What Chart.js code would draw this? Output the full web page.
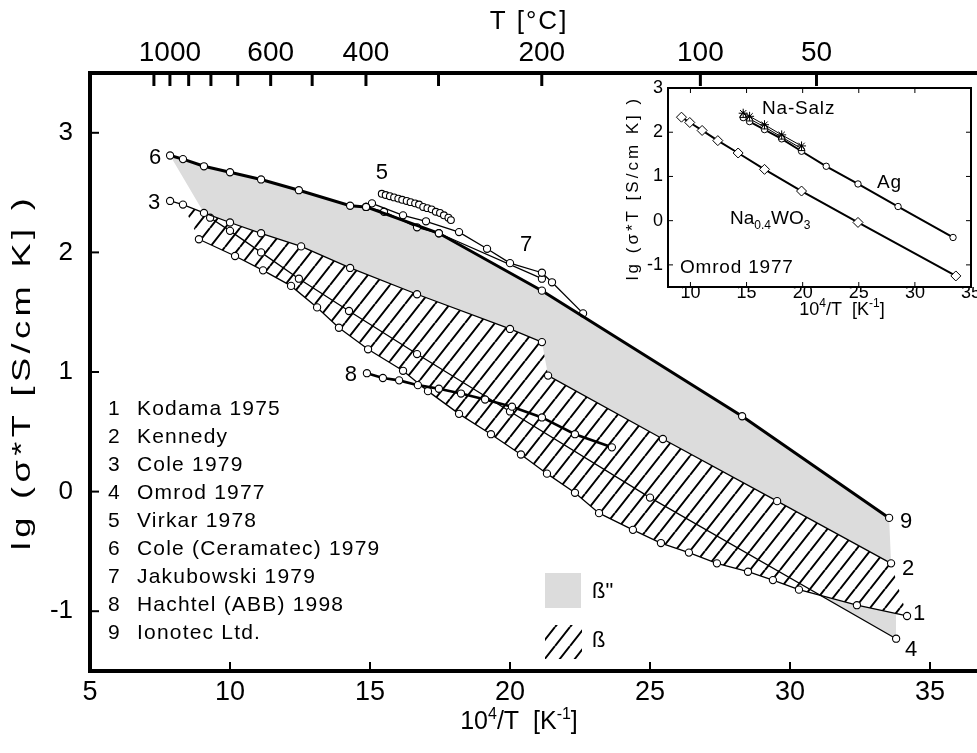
<!DOCTYPE html>
<html>
<head>
<meta charset="utf-8">
<title>Leitfähigkeit Beta-Aluminat</title>
<script src="https://cdn.jsdelivr.net/npm/chart.js@4.4.1/dist/chart.umd.min.js"></script>
<style>
  html, body { margin: 0; padding: 0; background: #fff; overflow: hidden; }
  #wrap { position: relative; width: 977px; height: 753px; overflow: hidden; background: #fff; }
  #main { position: absolute; left: 0; top: 0; }
  #inset { position: absolute; left: 620px; top: 70px; }
</style>
</head>
<body>
<div id="wrap">
  <canvas id="main" width="1000" height="753"></canvas>
  <canvas id="inset" width="357" height="255"></canvas>
</div>
<script>
// Messreihen: [10^4/T, lg(sigma*T)]
const kodama1975 = [[8.89,2.11],[10.18,1.97],[11.18,1.85],[12.18,1.72],[13.11,1.54],[13.89,1.37],[14.93,1.19],[16.18,1.01],[17.07,0.84],[18.18,0.65],[19.32,0.48],[20.39,0.31],[21.32,0.15],[22.32,-0.01],[23.18,-0.18],[24.39,-0.32],[25.39,-0.43],[26.39,-0.51],[27.39,-0.60],[28.5,-0.67],[29.39,-0.74],[30.32,-0.82],[32.39,-0.95],[34.18,-1.04]];
const kennedy = [[21.36,0.97],[25.46,0.44],[29.54,-0.08],[33.61,-0.60]];
const cole1979 = [[7.86,2.43],[8.32,2.40],[9.07,2.33],[10.0,2.25],[11.11,2.16],[12.54,2.05],[14.29,1.87],[16.68,1.65],[20.0,1.36],[21.14,1.25]];
const omrod1977 = [[9.29,2.29],[10.0,2.18],[11.11,2.00],[12.46,1.78],[14.25,1.51],[16.68,1.15],[20.0,0.67],[25.0,-0.05],[33.79,-1.23]];
const virkar1978 = [[15.42,2.49],[15.56,2.48],[15.71,2.47],[15.86,2.46],[16.01,2.45],[16.15,2.44],[16.31,2.43],[16.45,2.42],[16.61,2.41],[16.75,2.40],[16.90,2.38],[17.05,2.37],[17.20,2.36],[17.35,2.34],[17.50,2.33],[17.64,2.31],[17.80,2.29],[17.89,2.27]];
const coleCeramatec1979 = [[7.86,2.81],[8.32,2.78],[9.07,2.72],[10.0,2.67],[11.11,2.61],[12.46,2.52],[14.29,2.39],[14.86,2.38]];
const jakubowskiA = [[15.07,2.41],[16.18,2.31],[17.0,2.26],[18.18,2.17],[19.18,2.03],[20.0,1.91],[21.14,1.83],[21.5,1.75],[22.61,1.49]];
const jakubowskiB = [[14.86,2.38],[15.5,2.34],[16.68,2.21],[17.46,2.16],[21.14,1.78]];
const hachtel1998 = [[14.89,0.99],[15.46,0.95],[16.04,0.93],[16.71,0.89],[17.46,0.86],[18.25,0.82],[19.11,0.77],[20.07,0.71],[21.14,0.62],[22.32,0.48],[23.64,0.37]];
const ionotec = [[14.86,2.38],[17.46,2.16],[21.14,1.68],[28.29,0.63],[33.54,-0.22]];

// Einschub (Omrod 1977)
const insetNaWO3 = [[9.2,2.34],[9.94,2.22],[11.04,2.04],[12.44,1.81],[14.25,1.53],[16.6,1.16],[19.9,0.67],[24.93,-0.04],[33.65,-1.25]];
const insetAg = [[14.7,2.33],[15.27,2.24],[16.6,2.06],[18.13,1.85],[19.9,1.57],[22.1,1.23],[24.93,0.83],[28.5,0.32],[33.4,-0.38]];
const insetNaSalzStar = [[14.7,2.43],[15.27,2.36],[16.6,2.17],[18.13,1.94],[19.9,1.69]];
const insetNaSalzTri = [[14.7,2.38],[15.27,2.30],[16.6,2.12],[18.13,1.89],[19.9,1.63]];

// Achsen
const X_TICKS = [5, 10, 15, 20, 25, 30, 35];
const Y_TICKS = [-1, 0, 1, 2, 3];
const TOP_T = [1100, 1000, 900, 800, 700, 600, 500, 400, 300, 200, 100, 50];
const TOP_LABELED = [1000, 600, 400, 200, 100, 50];
const INSET_X_TICKS = [10, 15, 20, 25, 30, 35];
const INSET_Y_TICKS = [-1, 0, 1, 2, 3];
const LEGEND = ['Kodama 1975', 'Kennedy', 'Cole 1979', 'Omrod 1977', 'Virkar 1978', 'Cole (Ceramatec) 1979', 'Jakubowski 1979', 'Hachtel (ABB) 1998', 'Ionotec Ltd.'];

const FONT = "'Liberation Sans', Arial, Helvetica, sans-serif";
const GRAY = '#dcdcdc';

const pt = (arr) => arr.map(([x, y]) => ({ x, y }));
const fixTicks = (list) => (s) => { s.ticks = list.map((v) => ({ value: v })); };

function lineSet(arr, opts) {
  return Object.assign({
    data: pt(arr),
    showLine: true,
    borderColor: '#000',
    borderWidth: 1.3,
    pointRadius: 3.6,
    pointBackgroundColor: '#fff',
    pointBorderColor: '#000',
    pointBorderWidth: 1.1,
    fill: false,
    tension: 0
  }, opts || {});
}

// Schraffur fuer beta
function makeHatch() {
  const w = 15, h = 19;
  const c = document.createElement('canvas');
  c.width = w;
  c.height = h;
  const g = c.getContext('2d');
  g.strokeStyle = '#000';
  g.lineWidth = 2;
  g.beginPath();
  [-w, 0, w].forEach((ox) => {
    g.moveTo(ox, h);
    g.lineTo(ox + w, 0);
  });
  g.stroke();
  return g.createPattern(c, 'repeat');
}
const hatch = makeHatch();

// Text mit Hoch-/Tiefstellung
function drawRich(ctx, parts, x, y, size, align) {
  const small = Math.round(size * 0.64);
  let total = 0;
  parts.forEach((p) => {
    ctx.font = (p.sup || p.sub ? small : size) + 'px ' + FONT;
    p.w = ctx.measureText(p.t).width;
    total += p.w;
  });
  let cx = align === 'center' ? x - total / 2 : x;
  ctx.textAlign = 'left';
  ctx.textBaseline = 'alphabetic';
  parts.forEach((p) => {
    ctx.font = (p.sup || p.sub ? small : size) + 'px ' + FONT;
    const dy = p.sup ? -size * 0.42 : p.sub ? size * 0.25 : 0;
    ctx.fillText(p.t, cx, y + dy);
    cx += p.w;
  });
}

// Ticks nach innen
const innerTicks = {
  id: 'innerTicks',
  afterDraw(chart, args, opts) {
    const ctx = chart.ctx;
    const a = chart.chartArea;
    ctx.save();
    ctx.strokeStyle = '#000';
    (opts.axes || []).forEach((ax) => {
      const scale = chart.scales[ax.id];
      ctx.lineWidth = ax.width;
      scale.ticks.forEach((t) => {
        const p = scale.getPixelForValue(t.value);
        ctx.beginPath();
        if (ax.side === 'bottom') { ctx.moveTo(p, a.bottom); ctx.lineTo(p, a.bottom - ax.len); }
        if (ax.side === 'top') { ctx.moveTo(p, a.top); ctx.lineTo(p, a.top + ax.len); }
        if (ax.side === 'left') { ctx.moveTo(a.left, p); ctx.lineTo(a.left + ax.len, p); }
        if (ax.side === 'right') { ctx.moveTo(a.right, p); ctx.lineTo(a.right - ax.len, p); }
        ctx.stroke();
      });
    });
    ctx.restore();
  }
};

// Nummern an den Kurven
const curveLabels = [
  { text: '6', data: coleCeramatec1979, idx: 0, dx: -15, dy: 2 },
  { text: '3', data: cole1979, idx: 0, dx: -16, dy: 2 },
  { text: '5', data: virkar1978, idx: 0, dx: 0, dy: -21 },
  { text: '7', data: jakubowskiA, idx: 5, dx: 16, dy: -18 },
  { text: '8', data: hachtel1998, idx: 0, dx: -16, dy: 2 },
  { text: '9', data: ionotec, idx: -1, dx: 17, dy: 4 },
  { text: '2', data: kennedy, idx: -1, dx: 17, dy: 6 },
  { text: '1', data: kodama1975, idx: -1, dx: 12, dy: -2 },
  { text: '4', data: omrod1977, idx: -1, dx: 15, dy: 11 }
];

const mainText = {
  id: 'mainText',
  afterDraw(chart) {
    const ctx = chart.ctx;
    const xs = chart.scales.x, ys = chart.scales.y;
    ctx.save();
    ctx.fillStyle = '#000';

    // Kurvennummern
    ctx.font = '22px ' + FONT;
    ctx.textAlign = 'center';
    ctx.textBaseline = 'middle';
    curveLabels.forEach((l) => {
      const p = l.idx < 0 ? l.data[l.data.length + l.idx] : l.data[l.idx];
      ctx.fillText(l.text, xs.getPixelForValue(p[0]) + l.dx, ys.getPixelForValue(p[1]) + l.dy);
    });

    // Legende links unten
    ctx.font = '21px ' + FONT;
    ctx.textAlign = 'left';
    ctx.letterSpacing = '1.2px';
    LEGEND.forEach((name, i) => {
      const y = 409 + i * 28.05;
      ctx.fillText(String(i + 1), 108, y);
      ctx.fillText(name, 137, y);
    });
    ctx.letterSpacing = '0px';

    // beta'' / beta
    ctx.fillStyle = GRAY;
    ctx.fillRect(545, 573, 36, 35);
    ctx.fillStyle = hatch;
    ctx.fillRect(545, 625, 37, 34);
    ctx.fillStyle = '#000';
    ctx.font = '22px ' + FONT;
    ctx.fillText('ß"', 592, 592);
    ctx.fillText('ß', 592, 641);

    // Achsentitel
    ctx.font = '26px ' + FONT;
    ctx.textAlign = 'center';
    ctx.letterSpacing = '2px';
    ctx.fillText('T [°C]', 529, 22);
    ctx.letterSpacing = '0px';
    drawRich(ctx, [{ t: '10' }, { t: '4', sup: true }, { t: '/T  [K' }, { t: '-1', sup: true }, { t: ']' }], 519, 729, 25, 'center');

    ctx.save();
    ctx.translate(23, 372);
    ctx.rotate(-Math.PI / 2);
    ctx.scale(1.45, 1);
    ctx.font = '25px ' + FONT;
    ctx.textAlign = 'center';
    ctx.textBaseline = 'middle';
    ctx.letterSpacing = '3px';
    ctx.fillText('lg (σ*T [S/cm K] )', 0, 0);
    ctx.restore();

    ctx.restore();
  }
};

const tickFont = (size) => ({ family: FONT, size: size });
const frame = (w) => ({ display: true, width: w, color: '#000' });

new Chart(document.getElementById('main'), {
  type: 'scatter',
  data: {
    datasets: [
      lineSet(coleCeramatec1979, { borderWidth: 3 }),
      lineSet(ionotec, { borderWidth: 3 }),
      lineSet(jakubowskiA),
      lineSet(jakubowskiB),
      lineSet(virkar1978, { showLine: false, pointRadius: 3.4 }),
      lineSet(cole1979),
      lineSet(kennedy),
      lineSet(hachtel1998, { borderWidth: 2.6 }),
      lineSet(omrod1977),
      lineSet(kodama1975, { fill: { target: 8, above: GRAY, below: 'rgba(0,0,0,0)' }, backgroundColor: GRAY }),
      // beta: schraffierte Flaeche
      {
        data: pt([...cole1979.slice(1), ...kennedy, ...kodama1975.slice().reverse()]),
        showLine: true, borderWidth: 0, pointRadius: 0, fill: 'shape', backgroundColor: hatch
      },
      // beta'': graue Flaeche
      {
        data: pt([...coleCeramatec1979, ...ionotec.slice(1), ...kennedy.slice().reverse(), ...cole1979.slice(2).reverse()]),
        showLine: true, borderWidth: 0, pointRadius: 0, fill: 'shape', backgroundColor: GRAY
      }
    ]
  },
  options: {
    responsive: false,
    animation: false,
    devicePixelRatio: 1,
    events: [],
    layout: { padding: 0 },
    plugins: {
      legend: { display: false },
      tooltip: { enabled: false },
      innerTicks: {
        axes: [
          { id: 'x', side: 'bottom', len: 9, width: 2 },
          { id: 'xT', side: 'top', len: 13, width: 3 },
          { id: 'y', side: 'left', len: 9, width: 2 }
        ]
      }
    },
    scales: {
      x: {
        type: 'linear', position: 'bottom', min: 5, max: 37,
        grid: { display: false, drawTicks: false },
        border: frame(4),
        afterBuildTicks: fixTicks(X_TICKS),
        ticks: { maxRotation: 0, autoSkip: false, padding: 5, color: '#000', font: tickFont(27) },
        afterFit: (s) => { s.height = 82; }
      },
      xT: {
        type: 'linear', position: 'top', min: 5, max: 37,
        grid: { display: false, drawTicks: false },
        border: frame(4),
        afterBuildTicks: fixTicks(TOP_T.map((t) => 1e4 / (t + 273.15))),
        ticks: {
          autoSkip: false, maxRotation: 0, padding: 3, color: '#000', font: tickFont(28),
          callback: (v, i) => (TOP_LABELED.includes(TOP_T[i]) ? String(TOP_T[i]) : '')
        },
        afterFit: (s) => { s.height = 73; }
      },
      y: {
        type: 'linear', position: 'left', min: -1.5, max: 3.5,
        grid: { display: false, drawTicks: false },
        border: frame(4),
        afterBuildTicks: fixTicks(Y_TICKS),
        ticks: { autoSkip: false, padding: 17, color: '#000', font: tickFont(26) },
        afterFit: (s) => { s.width = 90; }
      },
      y2: {
        type: 'linear', position: 'right', min: -1.5, max: 3.5,
        grid: { display: false, drawTicks: false },
        border: frame(4),
        ticks: { display: false },
        afterFit: (s) => { s.width = 14; }
      }
    }
  },
  plugins: [innerTicks, mainText]
});

// Einschub
const insetText = {
  id: 'insetText',
  afterDraw(chart) {
    const ctx = chart.ctx;
    ctx.save();
    ctx.fillStyle = '#000';
    ctx.font = '19px ' + FONT;
    ctx.textAlign = 'left';
    ctx.textBaseline = 'middle';
    ctx.letterSpacing = '0.8px';
    ctx.fillText('Na-Salz', 142, 39);
    ctx.fillText('Ag', 257, 113);
    ctx.fillText('Omrod 1977', 60, 198);
    ctx.letterSpacing = '0px';
    drawRich(ctx, [{ t: 'Na' }, { t: '0.4', sub: true }, { t: 'WO' }, { t: '3', sub: true }], 110, 154, 19, 'left');
    drawRich(ctx, [{ t: '10' }, { t: '4', sup: true }, { t: '/T  [K' }, { t: '-1', sup: true }, { t: ']' }], 222, 245, 18, 'center');

    ctx.translate(13, 118);
    ctx.rotate(-Math.PI / 2);
    ctx.font = '17px ' + FONT;
    ctx.textAlign = 'center';
    ctx.textBaseline = 'middle';
    ctx.letterSpacing = '3px';
    ctx.fillText('lg (σ*T [S/cm K] )', 0, 0);
    ctx.restore();
  }
};

new Chart(document.getElementById('inset'), {
  type: 'scatter',
  data: {
    datasets: [
      lineSet(insetNaSalzStar, { borderWidth: 1, pointStyle: 'star', pointRadius: 4.5, pointBorderWidth: 1 }),
      lineSet(insetNaSalzTri, { borderWidth: 1, pointStyle: 'triangle', pointRadius: 4, pointBorderWidth: 1 }),
      lineSet(insetAg, { borderWidth: 2, pointRadius: 3.2, pointBorderWidth: 1 }),
      lineSet(insetNaWO3, { borderWidth: 2, pointStyle: 'rectRot', pointRadius: 5, pointBorderWidth: 1 })
    ]
  },
  options: {
    responsive: false,
    animation: false,
    devicePixelRatio: 1,
    events: [],
    layout: { padding: 0 },
    plugins: {
      legend: { display: false },
      tooltip: { enabled: false },
      innerTicks: {
        axes: [
          { id: 'x', side: 'bottom', len: 5, width: 1 },
          { id: 'x', side: 'top', len: 5, width: 1 },
          { id: 'y', side: 'left', len: 5, width: 1 },
          { id: 'y', side: 'right', len: 5, width: 1 }
        ]
      }
    },
    scales: {
      x: {
        type: 'linear', position: 'bottom', min: 8, max: 35,
        grid: { display: false, drawTicks: false },
        border: frame(2),
        afterBuildTicks: fixTicks(INSET_X_TICKS),
        ticks: { autoSkip: false, maxRotation: 0, padding: -5, color: '#000', font: tickFont(18) },
        afterFit: (s) => { s.height = 38; }
      },
      x2: {
        type: 'linear', position: 'top', min: 8, max: 35,
        grid: { display: false, drawTicks: false },
        border: frame(2),
        ticks: { display: false },
        afterFit: (s) => { s.height = 18; }
      },
      y: {
        type: 'linear', position: 'left', min: -1.5, max: 3,
        grid: { display: false, drawTicks: false },
        border: frame(2),
        afterBuildTicks: fixTicks(INSET_Y_TICKS),
        ticks: { autoSkip: false, padding: 5, color: '#000', font: tickFont(18) },
        afterFit: (s) => { s.width = 48; }
      },
      y2: {
        type: 'linear', position: 'right', min: -1.5, max: 3,
        grid: { display: false, drawTicks: false },
        border: frame(2),
        ticks: { display: false },
        afterFit: (s) => { s.width = 6; }
      }
    }
  },
  plugins: [innerTicks, insetText]
});
</script>
</body>
</html>
